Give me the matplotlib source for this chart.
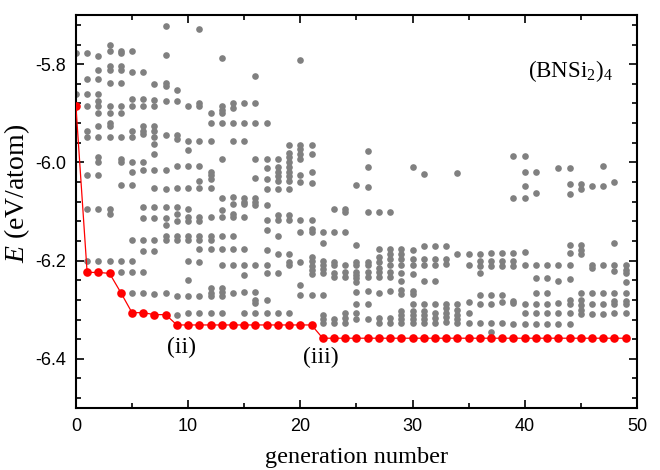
import numpy as np
import matplotlib.pyplot as plt
from matplotlib.ticker import MultipleLocator

plt.rcParams['font.family'] = ['Liberation Sans', 'DejaVu Sans']
plt.rcParams['axes.unicode_minus'] = False
plt.rcParams['mathtext.fontset'] = 'custom'
plt.rcParams['mathtext.rm'] = 'Liberation Serif'
plt.rcParams['mathtext.it'] = 'Liberation Serif:italic'

# energies (eV/atom) of every structure, one list per generation
population = [
    [-5.777, -5.861],
    [-5.778, -5.830, -5.860, -5.885, -5.936, -5.948, -6.026, -6.094, -6.200],
    [-5.784, -5.811, -5.830, -5.860, -5.875, -5.885, -5.899, -5.926, -5.948, -5.990, -6.000, -6.026, -6.094, -6.200],
    [-5.760, -5.774, -5.804, -5.811, -5.838, -5.885, -5.899, -5.920, -5.926, -5.948, -6.094, -6.106, -6.200],
    [-5.774, -5.778, -5.804, -5.811, -5.838, -5.885, -5.899, -5.948, -5.994, -6.000, -6.046, -6.200, -6.224],
    [-5.774, -5.815, -5.870, -5.885, -5.936, -5.948, -6.000, -6.020, -6.046, -6.159, -6.200, -6.224, -6.265],
    [-5.815, -5.870, -5.885, -5.926, -5.936, -5.942, -6.000, -6.016, -6.091, -6.113, -6.159, -6.180, -6.224, -6.265],
    [-5.840, -5.872, -5.885, -5.926, -5.936, -5.948, -5.963, -5.982, -6.016, -6.052, -6.091, -6.113, -6.159, -6.180, -6.267],
    [-5.723, -5.782, -5.838, -5.845, -5.874, -5.944, -6.016, -6.055, -6.091, -6.113, -6.127, -6.150, -6.159, -6.265],
    [-5.853, -5.874, -5.944, -5.953, -6.007, -6.053, -6.091, -6.106, -6.120, -6.150, -6.159, -6.273, -6.310],
    [-5.885, -5.957, -5.975, -6.007, -6.053, -6.094, -6.111, -6.120, -6.150, -6.159, -6.200, -6.240, -6.273, -6.306],
    [-5.728, -5.880, -5.885, -5.957, -6.007, -6.038, -6.053, -6.111, -6.120, -6.150, -6.159, -6.176, -6.203, -6.273, -6.306],
    [-5.899, -5.920, -5.957, -6.020, -6.026, -6.033, -6.053, -6.111, -6.150, -6.159, -6.176, -6.255, -6.265, -6.273, -6.306],
    [-5.787, -5.885, -5.893, -5.899, -5.920, -5.994, -6.073, -6.097, -6.111, -6.150, -6.176, -6.208, -6.255, -6.263, -6.273, -6.306],
    [-5.880, -5.889, -5.920, -5.957, -6.071, -6.084, -6.105, -6.111, -6.150, -6.176, -6.208, -6.265],
    [-5.880, -5.920, -5.957, -6.073, -6.080, -6.084, -6.111, -6.176, -6.208, -6.229, -6.263, -6.306],
    [-5.824, -5.880, -5.920, -5.994, -6.032, -6.073, -6.080, -6.086, -6.208, -6.263, -6.280, -6.287, -6.307],
    [-5.920, -5.994, -6.011, -6.034, -6.054, -6.086, -6.118, -6.138, -6.179, -6.208, -6.225, -6.281, -6.307],
    [-5.994, -6.010, -6.019, -6.027, -6.037, -6.054, -6.107, -6.118, -6.149, -6.186, -6.225, -6.307],
    [-5.965, -5.980, -5.990, -6.000, -6.010, -6.020, -6.027, -6.037, -6.054, -6.107, -6.118, -6.186, -6.202, -6.208, -6.307],
    [-5.791, -5.965, -5.973, -5.983, -5.994, -6.026, -6.039, -6.118, -6.142, -6.202, -6.250, -6.269],
    [-5.965, -5.982, -6.019, -6.042, -6.118, -6.135, -6.142, -6.192, -6.201, -6.211, -6.219, -6.228, -6.269],
    [-6.142, -6.165, -6.201, -6.209, -6.217, -6.226, -6.269, -6.310, -6.319, -6.327],
    [-6.094, -6.142, -6.202, -6.209, -6.226, -6.233, -6.319, -6.327],
    [-6.094, -6.101, -6.142, -6.208, -6.223, -6.233, -6.306, -6.317, -6.327],
    [-6.047, -6.169, -6.202, -6.209, -6.223, -6.229, -6.236, -6.243, -6.263, -6.289, -6.307, -6.319],
    [-5.976, -6.010, -6.050, -6.101, -6.202, -6.209, -6.223, -6.233, -6.262, -6.289, -6.319],
    [-6.101, -6.176, -6.192, -6.202, -6.216, -6.223, -6.233, -6.265, -6.317, -6.327],
    [-6.101, -6.176, -6.186, -6.196, -6.208, -6.223, -6.233, -6.261, -6.317, -6.327],
    [-6.176, -6.186, -6.196, -6.209, -6.226, -6.241, -6.260, -6.267, -6.302, -6.310, -6.319, -6.327],
    [-6.009, -6.179, -6.196, -6.209, -6.228, -6.261, -6.267, -6.289, -6.302, -6.310, -6.319, -6.327],
    [-6.024, -6.171, -6.196, -6.209, -6.241, -6.289, -6.302, -6.310, -6.319, -6.327],
    [-6.171, -6.196, -6.209, -6.241, -6.289, -6.307, -6.317, -6.327],
    [-6.171, -6.196, -6.206, -6.289, -6.297, -6.307, -6.314, -6.324],
    [-6.022, -6.187, -6.289, -6.300, -6.310, -6.319, -6.327],
    [-6.187, -6.208, -6.285, -6.307, -6.327],
    [-6.187, -6.201, -6.211, -6.226, -6.269, -6.289, -6.327],
    [-6.184, -6.201, -6.211, -6.269, -6.289, -6.327, -6.345],
    [-6.184, -6.201, -6.211, -6.269, -6.285, -6.327],
    [-5.988, -6.073, -6.184, -6.201, -6.211, -6.282, -6.287, -6.329],
    [-5.988, -6.020, -6.049, -6.073, -6.182, -6.209, -6.289, -6.307, -6.329],
    [-6.020, -6.062, -6.209, -6.236, -6.265, -6.289, -6.307, -6.329],
    [-6.209, -6.236, -6.265, -6.289, -6.307, -6.329],
    [-6.012, -6.209, -6.241, -6.287, -6.307, -6.329],
    [-6.012, -6.044, -6.064, -6.169, -6.184, -6.209, -6.238, -6.280, -6.289, -6.307, -6.329],
    [-6.044, -6.054, -6.169, -6.179, -6.186, -6.265, -6.280, -6.290, -6.300, -6.309],
    [-6.049, -6.208, -6.216, -6.265, -6.289, -6.309],
    [-6.007, -6.049, -6.208, -6.265, -6.289, -6.309],
    [-6.039, -6.165, -6.208, -6.221, -6.265, -6.282, -6.289, -6.307],
    [-6.208, -6.219, -6.226, -6.243, -6.265, -6.282, -6.289, -6.306],
]

# lowest energy found up to each generation
best = [-5.885, -6.224, -6.224, -6.226, -6.265, -6.306, -6.306, -6.310, -6.310] \
    + [-6.331] * 13 + [-6.358] * 28
generations = np.arange(len(best))

fig = plt.figure(figsize=(6.6, 4.7), dpi=100)
ax = fig.add_axes([0.115, 0.132, 0.85, 0.836])

for g, energies in enumerate(population):
    ax.plot([g] * len(energies), energies, 'o', color='#808080',
            markersize=4.8, markeredgewidth=0, zorder=2)

ax.plot(generations, best, '-o', color='#ff0000', lw=0.9,
        markersize=6.2, markeredgewidth=0, zorder=3)

ax.text(9.4, -6.376, '(ii)', ha='center', va='center', fontsize=17,
        family='Liberation Serif')
ax.text(21.8, -6.398, '(iii)', ha='center', va='center', fontsize=17,
        family='Liberation Serif')
ax.text(44.1, -5.814, r'(BNSi$_2$)$_4$', ha='center', va='center',
        fontsize=16.5, family='Liberation Serif')

ax.set_xlim(0, 50)
ax.set_ylim(-6.5, -5.7)
ax.xaxis.set_major_locator(MultipleLocator(10))
ax.xaxis.set_minor_locator(MultipleLocator(5))
ax.yaxis.set_major_locator(MultipleLocator(0.2))
ax.yaxis.set_minor_locator(MultipleLocator(0.04))
ax.tick_params(which='both', direction='in', top=True, right=True,
               labelsize=13, width=1.2, pad=7)
ax.tick_params(which='major', length=6)
ax.tick_params(which='minor', length=3.5)
for s in ax.spines.values():
    s.set_linewidth(1.5)

ax.set_xlabel('generation number', fontsize=17.5, family='Liberation Serif',
              labelpad=9)
ax.set_ylabel(r'$E$ (eV/atom)', fontsize=20, family='Liberation Serif')
ax.yaxis.set_label_coords(-0.078, 0.545)

fig.savefig('out.png', dpi=100)
